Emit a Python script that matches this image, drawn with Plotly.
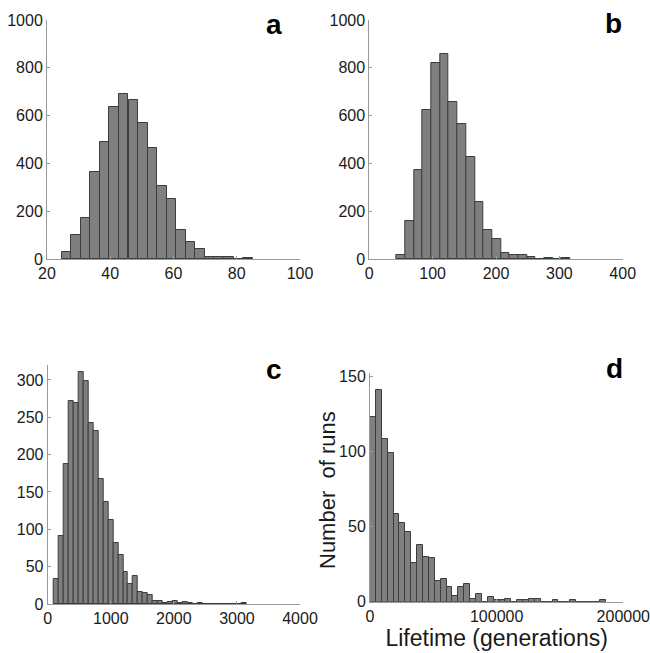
import plotly.graph_objects as go

# ---- data ----
a_centers = [26.1, 29.1, 32.2, 35.2, 38.2, 41.2, 44.2, 47.3, 50.3, 53.3,
             56.3, 59.3, 62.4, 65.4, 68.4, 71.4, 74.4, 77.5, 80.5, 83.5]
a_counts = [29, 100, 172, 364, 491, 636, 690, 667, 568, 464,
            307, 252, 123, 73, 40, 8, 7, 7, 1, 4]
a_width = 3.02

b_centers = [50.1, 63.8, 77.5, 91.2, 104.9, 118.6, 132.3, 146.0, 159.7, 173.4,
             187.1, 200.8, 214.5, 228.2, 241.9, 255.6, 269.3, 283.0, 296.7, 310.4]
b_counts = [17, 159, 372, 622, 819, 859, 655, 565, 428, 240,
            121, 84, 26, 17, 15, 8, 0, 4, 1, 3]
b_width = 13.7

c_centers = [139.2, 217.6, 296.0, 374.4, 452.8, 531.2, 609.6, 688.0, 766.4, 844.8,
             923.2, 1001.6, 1080.0, 1158.4, 1236.8, 1315.2, 1393.6, 1472.0, 1550.4, 1628.8,
             1707.2, 1785.6, 1864.0, 1942.4, 2020.8, 2099.2, 2177.6, 2256.0, 2334.4, 2412.8,
             2491.2, 2569.6, 2648.0, 2726.4, 2804.8, 2883.2, 2961.6, 3040.0, 3118.4]
c_counts = [34, 91, 188, 272, 269, 311, 298, 242, 231, 168,
            136, 113, 82, 65, 43, 27, 37, 16, 15, 12,
            4, 4, 2, 3, 4, 1, 3, 1, 0, 1,
            0, 0, 0, 0, 0, 0, 0, 0, 1]
c_width = 78.4

d_centers = [2325, 6975, 11625, 16275, 20925, 25575, 30225, 34875, 39525, 44175,
             48825, 53475, 58125, 62775, 67425, 72075, 76725, 81375, 86025, 90675,
             95325, 99975, 104625, 109275, 113925, 118575, 123225, 127875, 132525, 137175,
             141825, 146475, 151125, 155775, 160425, 165075, 169725, 174375, 179025, 183675]
d_counts = [123, 141, 108, 99, 58, 52, 46, 26, 38, 30,
            29, 14, 15, 10, 4, 10, 12, 2, 5, 0,
            3, 1, 1, 2, 0, 1, 1, 2, 2, 0,
            0, 1, 0, 0, 1, 0, 0, 0, 0, 1]
d_width = 4650

panel_labels = ["a", "b", "c", "d"]
x_title = "Lifetime (generations)"
y_title = "Number  of runs"

a_xticks = [20, 40, 60, 80, 100]
b_xticks = [0, 100, 200, 300, 400]
c_xticks = [0, 1000, 2000, 3000, 4000]
d_xticks = [0, 100000, 200000]
ab_yticks = [0, 200, 400, 600, 800, 1000]
c_yticks = [0, 50, 100, 150, 200, 250, 300]
d_yticks = [0, 50, 100, 150]

# ---- figure ----
W, H = 650, 653
FONT = "Liberation Sans, Arial, sans-serif"
BAR_FILL = "#7f7f7f"
BAR_EDGE = "#3c3c3c"
AX_COL = "#9a9a9a"
TXT = "#1a1a1a"

def px_x(p):
    return p / W

def px_y(p):
    return 1 - p / H

fig = go.Figure()

panels = [
    (a_centers, a_counts, a_width, "x", "y"),
    (b_centers, b_counts, b_width, "x2", "y2"),
    (c_centers, c_counts, c_width, "x3", "y3"),
    (d_centers, d_counts, d_width, "x4", "y4"),
]
for cen, cnt, wid, xa, ya in panels:
    fig.add_trace(go.Bar(
        x=cen, y=cnt, width=[wid] * len(cen),
        marker=dict(color=BAR_FILL, line=dict(color=BAR_EDGE, width=1)),
        xaxis=xa, yaxis=ya, showlegend=False, hoverinfo="x+y",
    ))

def ax(domain, rng, ticks, **kw):
    d = dict(
        domain=domain, range=rng, tickvals=ticks,
        ticktext=[str(t) for t in ticks],
        showline=True, linecolor=AX_COL, linewidth=1,
        ticks="inside", ticklen=3, tickcolor=AX_COL, tickwidth=1,
        showgrid=False, zeroline=False, mirror=False,
        tickfont=dict(family=FONT, size=16, color=TXT),
        fixedrange=True, automargin=False, ticklabeloverflow="allow",
    )
    d.update(kw)
    return d

top_y = [px_y(259), px_y(20)]
c_y = [px_y(604), px_y(365)]
d_y = [px_y(601.7), px_y(373)]

fig.update_layout(
    width=W, height=H,
    margin=dict(l=0, r=0, t=0, b=0, autoexpand=False),
    paper_bgcolor="white", plot_bgcolor="white",
    font=dict(family=FONT, color=TXT),
    bargap=0,
    xaxis=ax([px_x(47), px_x(300)], [20, 100], a_xticks, anchor="y"),
    yaxis=ax(top_y, [0, 1000], ab_yticks, anchor="x"),
    xaxis2=ax([px_x(369.3), px_x(622.7)], [0, 400], b_xticks, anchor="y2"),
    yaxis2=ax(top_y, [0, 1000], ab_yticks, anchor="x2"),
    xaxis3=ax([px_x(47.7), px_x(300)], [0, 4000], c_xticks, anchor="y3"),
    yaxis3=ax(c_y, [0, 320], c_yticks, anchor="x3"),
    xaxis4=ax([px_x(370), px_x(623.3)], [0, 200000], d_xticks, anchor="y4",
              title=dict(text=x_title, font=dict(family=FONT, size=23, color=TXT), standoff=4)),
    yaxis4=ax(d_y, [0, 152], d_yticks, anchor="x4"),
)

# y-axis title of panel d
fig.add_annotation(
    x=px_x(327), y=px_y(490), xref="paper", yref="paper",
    text=y_title, showarrow=False, textangle=-90,
    xanchor="center", yanchor="middle",
    font=dict(family=FONT, size=22, color=TXT),
)

label_pos = [(274, 25), (613, 24), (274, 369), (614, 368)]
for lab, (lx, ly) in zip(panel_labels, label_pos):
    fig.add_annotation(
        x=px_x(lx), y=px_y(ly), xref="paper", yref="paper",
        text="<b>%s</b>" % lab, showarrow=False,
        xanchor="center", yanchor="middle",
        font=dict(family=FONT, size=28, color="#000000"),
    )

fig.write_html("out.html")
